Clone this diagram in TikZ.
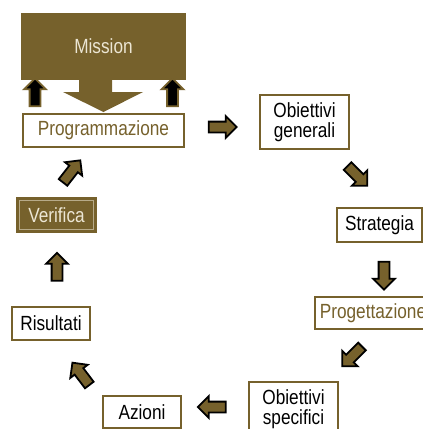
\documentclass[tikz,border=0pt]{standalone}
\usepackage{fontspec}
\setmainfont{Liberation Sans}[FakeStretch=0.84]
\usetikzlibrary{shapes.arrows}
\definecolor{oliva}{RGB}{118,97,44}
\definecolor{crema}{RGB}{236,230,212}
\tikzset{
  box/.style={draw=oliva, line width=1.2pt, fill=white, minimum height=33pt, inner sep=1pt, align=center, font=\fontsize{20.5}{19.5}\selectfont},
  darkbox/.style={box, fill=oliva, text=crema},
  freccia/.style={single arrow, draw=black, fill=oliva, line width=1.8pt, minimum height=28pt, inner sep=4.5pt, single arrow head extend=5.5pt},
  frecciainv/.style={freccia, draw=oliva, fill=black}
}
\begin{document}
\begin{tikzpicture}[x=1pt,y=-1pt]
\useasboundingbox (0,0) rectangle (423,429);

% mission e programmazione
\node[darkbox, minimum width=163pt, minimum height=65pt] (mission) at (103.5,46.5) {Mission};
\fill[oliva] (79,78) -- (112,78) -- (112,92) -- (143,92) -- (103.5,112) -- (63,92) -- (79,92) -- cycle;
\node[box, line width=2pt, text=oliva, minimum width=161pt] (prog) at (103.5,130.5) {Programmazione};
\node[frecciainv, rotate=90] (su1) at (35,95) {};
\node[frecciainv, rotate=90] (su2) at (172.5,95) {};

% ciclo
\node[box, minimum width=89pt, minimum height=54pt] (obgen) at (304.5,122) {Obiettivi\\generali};
\node[box, minimum width=85pt, minimum height=34pt] (strat) at (379.5,225) {Strategia};
\node[box, text=oliva, minimum width=116pt, minimum height=32pt] (proget) at (373,313) {Progettazione};
\node[box, minimum width=89pt, minimum height=54pt] (obspec) at (293.5,409) {Obiettivi\\specifici};
\node[box, minimum width=78pt, minimum height=32pt] (azioni) at (142,412) {Azioni};
\node[box, minimum width=78pt, minimum height=33pt] (risult) at (51,323.5) {Risultati};
\node[darkbox, minimum width=79pt, minimum height=34pt,
  path picture={\draw[crema!55!oliva, line width=0.6pt]
    ([shift={(2.5pt,-2.5pt)}]path picture bounding box.north west) rectangle
    ([shift={(-2.5pt,2.5pt)}]path picture bounding box.south east);}] (verif) at (56.5,215) {Verifica};

% frecce
\node[freccia] (f1) at (220,127) {};
\node[freccia, rotate=-45] (f2) at (355.5,174) {};
\node[freccia, rotate=-90] (f3) at (384,273) {};
\node[freccia, rotate=-135] (f4) at (354,354.5) {};
\node[freccia, rotate=180] (f5) at (214.5,407) {};
\node[freccia, rotate=127] (f6) at (82.5,376) {};
\node[freccia, rotate=90] (f7) at (57,269.5) {};
\node[freccia, rotate=52] (f8) at (70,173.5) {};

\end{tikzpicture}
\end{document}
